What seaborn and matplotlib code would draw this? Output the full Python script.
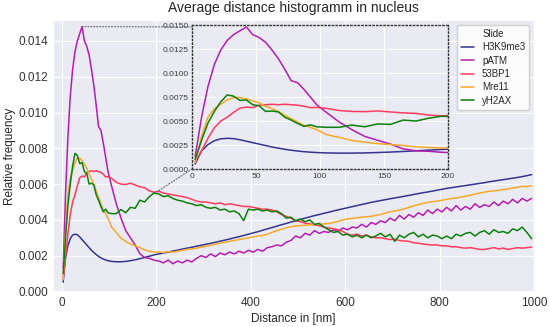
import numpy as np
import pandas as pd
import seaborn as sns
import matplotlib.pyplot as plt
from matplotlib.patches import ConnectionPatch

# distance bins in nm (5 nm steps below 100 nm, 10 nm steps above)
dist_nm = np.concatenate([np.arange(2.5, 100, 5), np.arange(105, 1000, 10)])

# relative frequency per bin, in units of 1e-3
h3k9me3 = [0.52, 1.9, 2.55, 2.95, 3.15, 3.2, 3.17, 3.05, 2.9, 2.75,
           2.6, 2.45, 2.3, 2.18, 2.06, 1.96, 1.88, 1.81, 1.76, 1.72,
           1.68, 1.66, 1.66, 1.68, 1.72, 1.77, 1.83, 1.90, 1.97, 2.04,
           2.10, 2.15, 2.20, 2.26, 2.31, 2.37, 2.42, 2.47, 2.53, 2.58,
           2.64, 2.69, 2.75, 2.81, 2.87, 2.93, 3.00, 3.06, 3.13, 3.20,
           3.27, 3.34, 3.42, 3.50, 3.57, 3.65, 3.73, 3.80, 3.88, 3.95,
           4.02, 4.10, 4.17, 4.24, 4.30, 4.37, 4.43, 4.50, 4.56, 4.62,
           4.68, 4.74, 4.80, 4.86, 4.92, 4.98, 5.03, 5.08, 5.13, 5.18,
           5.23, 5.27, 5.32, 5.37, 5.42, 5.47, 5.52, 5.56, 5.61, 5.66,
           5.71, 5.76, 5.80, 5.84, 5.88, 5.92, 5.96, 6.00, 6.04, 6.08,
           6.13, 6.17, 6.21, 6.25, 6.29, 6.33, 6.37, 6.42, 6.47, 6.53]
patm = [1.3, 5.4, 8.6, 10.9, 12.4, 13.4, 14.0, 14.4, 14.8, 14.0,
        13.7, 13.2, 12.4, 11.5, 10.4, 9.2, 9.0, 8.3, 7.5, 6.7,
        5.9, 4.9, 4.1, 3.4, 3.0, 2.6, 2.1, 1.9, 1.85, 1.75,
        1.7, 1.6, 1.75, 1.55, 1.7, 1.6, 1.75, 1.65, 1.85, 2.0,
        1.9, 2.1, 1.95, 2.15, 2.05, 2.2, 2.1, 2.25, 2.15, 2.3,
        2.2, 2.35, 2.25, 2.45, 2.5, 2.6, 2.55, 2.75, 2.85, 3.1,
        3.0, 3.25, 3.15, 3.4, 3.25, 3.35, 3.3, 3.45, 3.35, 3.55,
        3.45, 3.6, 3.55, 3.75, 3.6, 3.85, 3.75, 3.95, 3.85, 4.1,
        3.95, 4.25, 4.05, 4.3, 4.15, 4.4, 4.25, 4.55, 4.35, 4.6,
        4.45, 4.7, 4.5, 4.8, 4.55, 4.75, 4.6, 4.9, 4.7, 4.85,
        4.75, 5.0, 4.8, 5.05, 4.9, 5.15, 4.95, 5.2, 5.05, 5.2]
bp53 = [0.76, 1.9, 3.2, 4.3, 5.0, 5.4, 5.9, 6.35, 6.45, 6.4,
        6.65, 6.7, 6.75, 6.7, 6.75, 6.7, 6.65, 6.55, 6.4, 6.42,
        6.32, 6.1, 6.0, 5.98, 6.05, 5.95, 5.85, 5.8, 5.62, 5.55,
        5.6, 5.5, 5.45, 5.4, 5.35, 5.3, 5.25, 5.15, 5.05, 5.0,
        5.0, 4.95, 4.9, 4.95, 4.85, 4.9, 4.85, 4.8, 4.75, 4.75,
        4.7, 4.65, 4.6, 4.6, 4.55, 4.45, 4.3, 4.2, 4.1, 3.95,
        3.9, 3.82, 3.78, 3.72, 3.68, 3.6, 3.55, 3.5, 3.45, 3.35,
        3.2, 3.15, 3.2, 3.1, 3.15, 3.05, 3.0, 3.0, 2.95, 2.9,
        2.92, 2.85, 2.82, 2.8, 2.72, 2.7, 2.65, 2.62, 2.6, 2.6,
        2.55, 2.55, 2.5, 2.5, 2.45, 2.42, 2.45, 2.4, 2.35, 2.35,
        2.4, 2.45, 2.38, 2.42, 2.35, 2.4, 2.45, 2.42, 2.45, 2.48]
mre11 = [0.66, 3.4, 5.4, 6.3, 6.75, 7.2, 7.45, 7.45, 7.3, 7.1,
         6.9, 6.55, 6.3, 6.0, 5.6, 5.25, 4.9, 4.55, 4.35, 4.1,
         3.6, 3.3, 2.98, 2.8, 2.65, 2.55, 2.45, 2.32, 2.25, 2.2,
         2.2, 2.18, 2.22, 2.2, 2.25, 2.3, 2.35, 2.38, 2.42, 2.48,
         2.52, 2.58, 2.65, 2.7, 2.75, 2.8, 2.85, 2.9, 2.95, 3.0,
         3.05, 3.1, 3.13, 3.2, 3.3, 3.4, 3.48, 3.55, 3.62, 3.66,
         3.68, 3.7, 3.72, 3.74, 3.75, 3.78, 3.8, 3.85, 3.92, 4.0,
         4.05, 4.08, 4.12, 4.15, 4.18, 4.2, 4.25, 4.3, 4.38, 4.45,
         4.5, 4.55, 4.62, 4.7, 4.78, 4.85, 4.92, 4.98, 5.02, 5.05,
         5.1, 5.15, 5.2, 5.22, 5.28, 5.32, 5.38, 5.45, 5.5, 5.55,
         5.6, 5.62, 5.65, 5.7, 5.72, 5.78, 5.82, 5.88, 5.85, 5.92]
yh2ax = [1.0, 3.0, 4.8, 6.0, 7.0, 7.72, 7.6, 7.15, 7.2, 6.7,
         6.6, 6.0, 6.05, 5.95, 5.4, 5.1, 4.75, 4.45, 4.6, 4.4,
         4.35, 4.35, 4.58, 4.4, 4.7, 4.65, 5.1, 5.0, 5.3, 5.5,
         5.45, 5.3, 5.35, 5.2, 5.1, 5.05, 4.95, 4.9, 4.8, 4.85,
         4.7, 4.65, 4.7, 4.55, 4.6, 4.45, 4.5, 4.35, 3.96, 4.6,
         4.55, 4.6, 4.5, 4.55, 4.45, 4.5, 4.35, 4.1, 4.15, 3.95,
         4.05, 3.9, 4.0, 3.75, 3.8, 3.6, 3.45, 3.3, 3.35, 3.15,
         3.2, 3.05, 3.15, 3.0, 3.15, 3.0, 3.1, 3.25, 3.05, 3.2,
         2.8, 3.15, 3.0, 3.2, 3.3, 3.05, 3.2, 3.0, 3.15, 3.1,
         2.95, 3.1, 2.95, 3.2, 3.1, 3.25, 3.3, 3.1, 3.3, 3.4,
         3.2, 3.45, 3.3, 3.35, 3.25, 3.5, 3.4, 3.6, 3.3, 2.95]

slides = ['H3K9me3', 'pATM', '53BP1', 'Mre11', 'yH2AX']
colors = ['#35358e', '#b51db0', '#ff3b5e', '#f5a92b', '#0b800b']
series = [h3k9me3, patm, bp53, mre11, yh2ax]

df = pd.concat([pd.DataFrame({'Distance': dist_nm, 'Freq': np.array(v) / 1000, 'Slide': s})
                for s, v in zip(slides, series)], ignore_index=True)

sns.set_style('darkgrid')
plt.rcParams['font.family'] = ['Liberation Sans', 'DejaVu Sans']

fig = plt.figure(figsize=(5.5, 3.27), dpi=100)
ax = fig.add_axes([0.0964, 0.107, 0.8745, 0.8318])
sns.lineplot(data=df, x='Distance', y='Freq', hue='Slide', hue_order=slides,
             palette=colors, linewidth=1.1, ax=ax)
ax.set_xlim(-19, 1000)
ax.set_ylim(-0.00003, 0.01517)
ax.set_xticks(range(0, 1001, 200))
ax.set_yticks(np.arange(0, 0.0141, 0.002))
ax.yaxis.set_major_formatter('{x:.3f}')
ax.tick_params(labelsize=8.5, colors='0.2', length=0, pad=3.5)
ax.set_xlabel('Distance in [nm]', fontsize=8.5, color='0.15', labelpad=3)
ax.set_ylabel('Relative frequency', fontsize=8.5, color='0.15', labelpad=2)
ax.set_title('Average distance histogramm in nucleus', fontsize=10, color='0.15')
ax.legend(title='Slide', loc='upper right', fontsize=7, title_fontsize=7,
          handlelength=1.4, labelspacing=0.35, borderpad=0.4,
          facecolor='white', framealpha=0.9)

# zoomed inset of the first 200 nm
axins = fig.add_axes([0.349, 0.483, 0.4655, 0.4404])
sns.lineplot(data=df[df['Distance'] <= 210], x='Distance', y='Freq', hue='Slide',
             hue_order=slides, palette=colors, linewidth=1.1, legend=False, ax=axins)
axins.set_xlim(0, 200)
axins.set_ylim(0, 0.015)
axins.set_xticks([0, 50, 100, 150, 200])
axins.set_yticks(np.arange(0, 0.0151, 0.0025))
axins.yaxis.set_major_formatter('{x:.4f}')
axins.set_xlabel('')
axins.set_ylabel('')
axins.tick_params(labelsize=6, length=0, pad=2.5, colors='0.25')
for sp in axins.spines.values():
    sp.set_visible(True)
    sp.set_linestyle(':')
    sp.set_edgecolor('0.2')
    sp.set_linewidth(1)

# connector lines between main plot and inset
peak = np.argmax(patm)
top = ConnectionPatch(xyA=(dist_nm[peak], patm[peak] / 1000), coordsA=ax.transData,
                      xyB=(0, patm[peak] / 1000), coordsB=axins.transData,
                      color='0.4', lw=0.8, ls=':')
bottom = ConnectionPatch(xyA=(200, 0.00555), coordsA=ax.transData,
                         xyB=(0, 0), coordsB=axins.transData,
                         color='0.4', lw=0.8, ls=':')
fig.add_artist(top)
fig.add_artist(bottom)

fig.savefig('out.png', dpi=100)
